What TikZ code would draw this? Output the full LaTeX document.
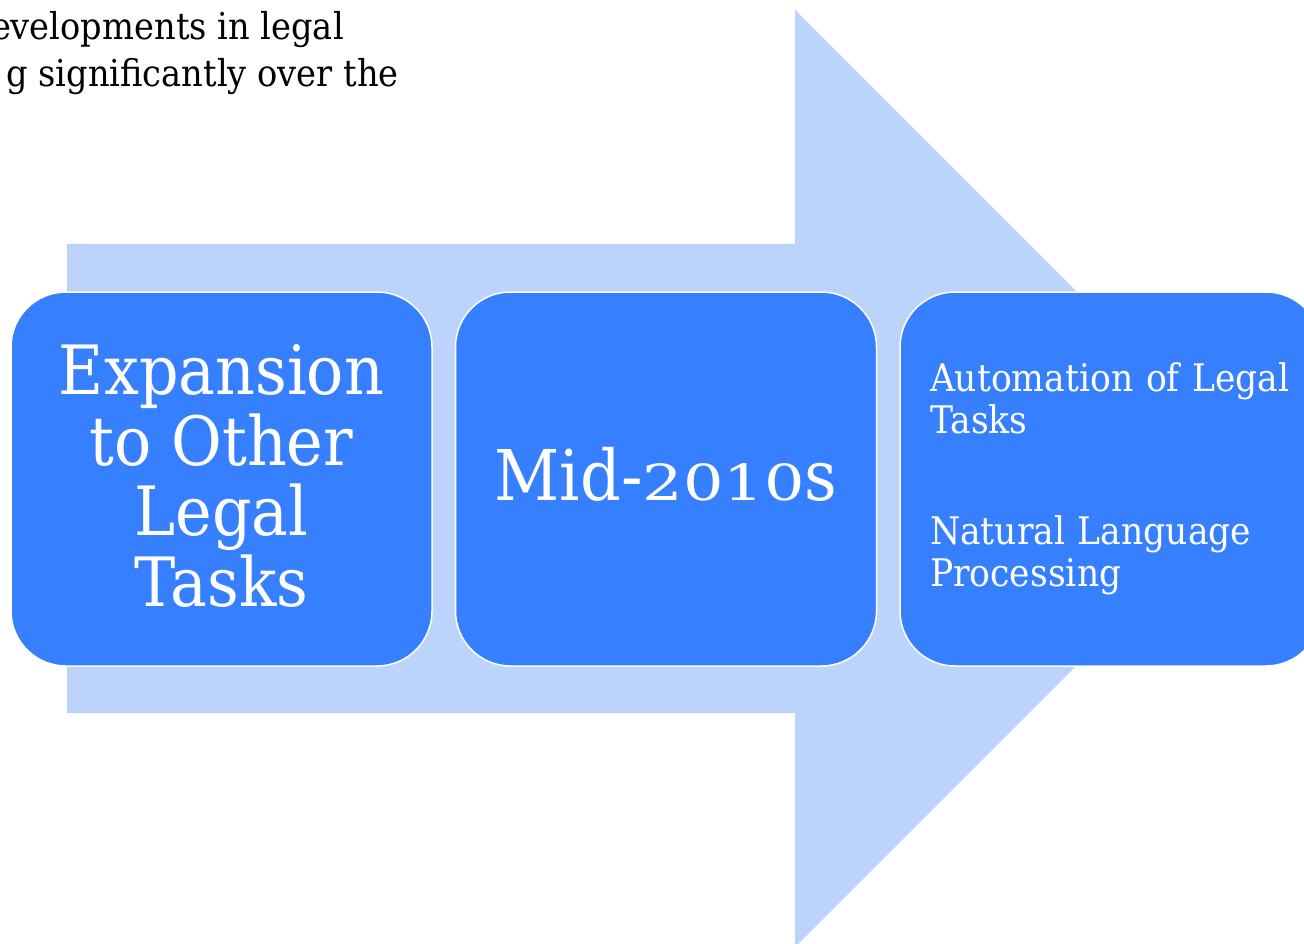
\documentclass[tikz,border=0pt]{standalone}
\usepackage{fontspec}
\usepackage{graphicx}
\setmainfont{DejaVu Serif}[FakeStretch=0.91]
\definecolor{stepblue}{RGB}{54,128,255}
\definecolor{arrowblue}{RGB}{188,212,252}
% digits squeezed to x-height, in the manner of old-style figures
\newcommand{\lowdigits}[1]{\scalebox{1}[0.71]{#1}}
\tikzset{
  stepbox/.style={draw=white, line width=1.5pt, fill=stepblue, rounded corners=55pt,
    minimum width=421pt, minimum height=374pt, text=white, inner sep=0pt},
  steptext/.style={text=white, inner sep=0pt},
  bodytext/.style={inner sep=0pt, text=black, anchor=base east,
    font=\fontsize{37}{47}\selectfont},
}
\begin{document}
\begin{tikzpicture}[x=1pt, y=-1pt]
  \useasboundingbox (0,0) rectangle (1304,944);
  \clip (0,0) rectangle (1304,944);

  % running text above the figure
  \node[bodytext] (line1) at (344,40) {evelopments in legal};
  \node[bodytext] (line2) at (399,87) {g significantly over the};

  % the broad background arrow
  \fill[arrowblue] (67,244) -- (795,244) -- (795,10) -- (1263.5,478.5)
    -- (795,947) -- (795,713) -- (67,713) -- cycle;

  % the three stages
  \node[stepbox] (s1) at (221.5,479) {};
  \node[stepbox] (s2) at (666,479) {};
  \node[stepbox, align=left, text width=361pt, inner xsep=30pt,
    font=\fontsize{38}{41.5}\selectfont]
    (s3) at (1110.5,479) {Automation of Legal\\Tasks\\[70pt]Natural Language\\Processing};

  % stage captions
  \node[steptext, align=center, font=\fontsize{68}{70.7}\selectfont]
    (t1) at ([yshift=3pt]s1.center) {Expansion\\to Other\\Legal\\Tasks};
  \node[steptext, font=\fontsize{70}{70}\selectfont]
    (t2) at ([yshift=5pt]s2.center) {Mid-\lowdigits{2010}s};
\end{tikzpicture}
\end{document}
